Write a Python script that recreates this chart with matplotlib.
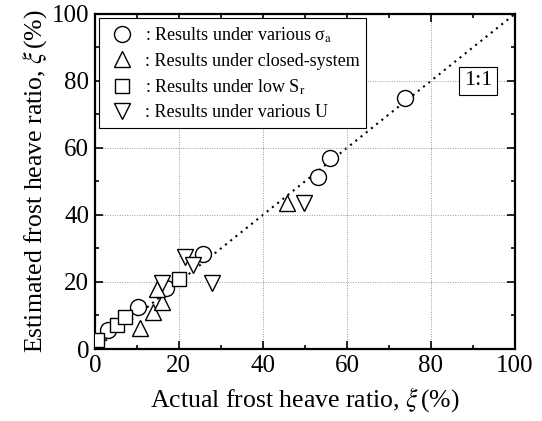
import matplotlib
matplotlib.use("Agg")
import matplotlib.pyplot as plt
from matplotlib.ticker import MultipleLocator

# === data (actual, estimated) ===
circ_x = [3.2, 10.3, 17.0, 25.8, 53.2, 56.0, 73.8]
circ_y = [5.7, 12.6, 18.3, 28.3, 51.3, 56.9, 74.8]

tri_up_x = [10.7, 13.9, 15.9, 14.7, 45.8]
tri_up_y = [6.2, 11.1, 14.1, 17.8, 43.7]

sq_x = [0.5, 5.2, 7.1, 20.0]
sq_y = [2.7, 7.2, 9.6, 20.8]

tri_dn_x = [15.9, 21.4, 23.4, 27.8, 49.8]
tri_dn_y = [19.6, 27.6, 25.1, 19.6, 43.7]

labels = [
    r": Results under various σ$_\mathrm{a}$",
    ": Results under closed-system",
    r": Results under low S$_\mathrm{r}$",
    ": Results under various U",
]

plt.rcParams["font.family"] = ["Liberation Serif", "DejaVu Serif"]
plt.rcParams["mathtext.fontset"] = "stix"

fig = plt.figure(figsize=(5.42, 4.21), dpi=100)
ax = fig.add_axes([0.175, 0.171, 0.775, 0.796])

# 1:1 line
ax.plot([0, 100], [0, 100], color="black", linestyle=(0, (1, 2.2)), linewidth=1.5, zorder=1)

mk = dict(linestyle="none", markerfacecolor="white", markeredgecolor="black",
          markeredgewidth=1.0, markersize=11.5, zorder=3)
ax.plot(circ_x, circ_y, marker="o", label=labels[0], **mk)
ax.plot(tri_up_x, tri_up_y, marker="^", label=labels[1], **mk)
ax.plot(sq_x, sq_y, marker="s", label=labels[2], **dict(mk, markersize=10.5))
ax.plot(tri_dn_x, tri_dn_y, marker="v", label=labels[3], **mk)

ax.set_xlim(0, 100)
ax.set_ylim(0, 100)
ax.xaxis.set_major_locator(MultipleLocator(20))
ax.yaxis.set_major_locator(MultipleLocator(20))
ax.xaxis.set_minor_locator(MultipleLocator(10))
ax.yaxis.set_minor_locator(MultipleLocator(10))
ax.tick_params(which="both", direction="in", top=True, right=True, labelsize=18, width=1.2)
ax.tick_params(which="major", length=6, pad=4)
ax.tick_params(which="minor", length=3)
for s in ax.spines.values():
    s.set_linewidth(1.6)

ax.grid(True, which="major", color="#9a9a9a", linestyle=(0, (1, 1.5)), linewidth=0.7)

ax.set_xlabel(r"Actual frost heave ratio, $\xi\,$(%)", fontsize=18.5, labelpad=6)
ax.set_ylabel(r"Estimated frost heave ratio, $\xi\,$(%)", fontsize=18.5, labelpad=2)

ax.text(91.2, 80, "1:1", fontsize=16, ha="center", va="center",
        bbox=dict(boxstyle="square,pad=0.2", facecolor="white", edgecolor="black", linewidth=0.8))

leg = ax.legend(loc="upper left", fontsize=13, frameon=True, fancybox=False,
                edgecolor="black", framealpha=1, borderpad=0.4, handletextpad=0.4,
                labelspacing=0.42, borderaxespad=0.25, handlelength=1.7)
leg.get_frame().set_linewidth(0.8)

plt.savefig("out.png", dpi=100)
